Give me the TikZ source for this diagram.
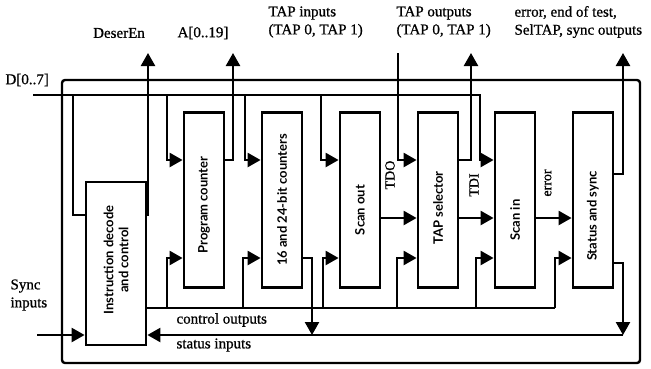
\documentclass[tikz,border=0pt]{standalone}
\usepackage{fontspec}
\setmainfont{Liberation Serif}[FakeBold=0.8]
\newfontfamily\boxfont{Lato}
\usetikzlibrary{arrows.meta}

\begin{document}
\begin{tikzpicture}[x=1pt,y=-1pt,
		every node/.style={font=\fontsize{15}{18}\selectfont},
		blk/.style={draw,line width=2.8pt,fill=white,minimum width=40pt,minimum height=175pt,inner sep=0pt},
		wire/.style={line width=2.4pt},
		arr/.style={wire,-{Triangle[length=13pt,width=14pt]}},
		txt/.style={rotate=90,font=\boxfont\bfseries\fontsize{13}{15}\selectfont,align=center}]
	\useasboundingbox (0,0) rectangle (651,368);
	% levels
	\coordinate (yin) at (0,160);
	\coordinate (ymid) at (0,218);
	\coordinate (ylow) at (0,258);
	\coordinate (yctl) at (0,308);
	\coordinate (ysta) at (0,335);
	\coordinate (yu) at (0,215);
	% blocks
	\node[blk,minimum width=60pt,minimum height=163pt] (idc) at (116,263.5) {};
	\node[txt] (idc-t) at (116,260) {Instruction decode\\and control};
	\foreach \n/\x/\y/\t in {pc/204/205/Program counter,cnt/282/200/16 and 24-bit counters,
			so/360/210/Scan out,taps/438/208/TAP selector,si/515/220/Scan in,ss/593/216/Status and sync} {
		\node[blk] (\n) at (\x,200) {};
		\node[txt] (\n-t) at (\x,\y) {\t};
	}
	% buses
	\draw[wire,rounded corners=3pt] (62,80) -- (640,80) -- (640,363) -- (62,363) -- cycle;
	\coordinate (din) at (33,95);
	\draw[arr] (din) -- (480,95) |- (si.west |- yin);
	\draw[wire] (73,95) |- (idc.west |- yu);
	\draw[arr] (idc.east |- yu) -| (148,53);
	\foreach \n/\x in {pc/167,cnt/245,so/321}
		\draw[arr] (\x,95) |- (\n.west |- yin);
	\draw[arr] (398,53) |- (taps.west |- yin);
	\draw[arr] (pc.east |- yin) -| (233,53);
	\draw[arr] (taps.east |- yin) -| (471,53);
	\draw[arr] (ss.east |- 0,174) -| (623,53);
	\foreach \a/\b in {so/taps,taps/si,si/ss}
		\draw[arr] (\a.east |- ymid) -- (\b.west |- ymid);
	% control and status
	\draw[wire] (idc.east |- yctl) -- (555,308);
	\foreach \n/\x in {pc/167,cnt/243,so/323,taps/397,si/476,ss/555}
		\draw[arr] (\x,308) |- (\n.west |- ylow);
	\draw[arr] (cnt.east |- ylow) -| (312,335);
	\draw[arr] (ss.east |- 0,263) -| (623,335);
	\draw[arr] (623,335) -- (idc.east |- ysta);
	\draw[arr] (37,335) -- (idc.west |- ysta);
	% labels
	\node (deseren) at (119,33) {DeserEn};
	\node (addr) at (203,33) {A[0..19]};
	\node[anchor=west,align=left] (tapin) at (265,22) {TAP inputs\\(TAP 0, TAP 1)};
	\node[anchor=west,align=left] (tapout) at (393,22) {TAP outputs\\(TAP 0, TAP 1)};
	\node[anchor=west,align=left] (ssout) at (511,22) {error, end of test,\\SelTAP, sync outputs};
	\node[anchor=west] (dlbl) at (2,80) {D[0..7]};
	\node[anchor=west,align=left] (sync) at (7,295) {Sync\\inputs};
	\node[anchor=west] (ctl) at (173,320) {control outputs};
	\node[anchor=west] (sta) at (173,345) {status inputs};
	\node[txt,font=\fontsize{14}{16}\selectfont] (tdo) at (390,175) {TDO};
	\node[txt,font=\fontsize{14}{16}\selectfont] (tdi) at (474,185) {TDI};
	\node[txt,font=\fontsize{14}{16}\selectfont] (err) at (548,183) {error};
\end{tikzpicture}
\end{document}
